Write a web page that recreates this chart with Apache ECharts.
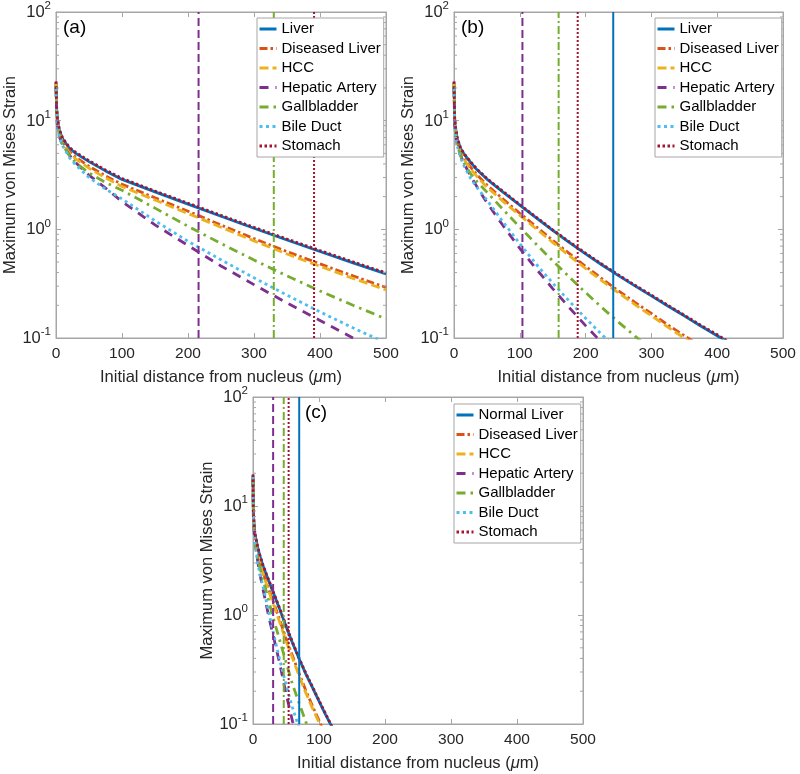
<!DOCTYPE html>
<html><head><meta charset="utf-8">
<script src="https://cdn.jsdelivr.net/npm/echarts@6/dist/echarts.min.js"></script>
<style>html,body{margin:0;padding:0;background:#fff}#c{width:800px;height:774px}</style>
</head><body><div id="c"></div><script>
// ---------- names / ticks ----------
const namesAB = ['Liver','Diseased Liver','HCC','Hepatic Artery','Gallbladder','Bile Duct','Stomach'];
const namesC  = ['Normal Liver','Diseased Liver','HCC','Hepatic Artery','Gallbladder','Bile Duct','Stomach'];
const xTicks = [0,100,200,300,400,500];
const yTicks = [0.1,1,10,100];
const minorTickValues = [0.2,0.3,0.4,0.5,0.6,0.7,0.8,0.9,2,3,4,5,6,7,8,9,20,30,40,50,60,70,80,90];
const panelLabels = ['(a)','(b)','(c)'];

// ---------- panel (a) ----------
const xA = [0,1,2,5,10,20,30,50,75,100,150,200,250,300,350,400,450,500];
const liverA    = [22.5,13,10.5,8.2,6.8,5.6,5.0,4.2,3.45,2.88,2.21,1.706,1.318,1.023,0.798,0.625,0.492,0.389];
const diseasedA = [22,12.6,10.1,7.8,6.4,5.2,4.6,3.8,3.1,2.6,1.95,1.469,1.096,0.822,0.624,0.481,0.373,0.292];
const hccA      = [22,12.4,9.9,7.6,6.2,5.05,4.45,3.65,2.98,2.48,1.86,1.4,1.045,0.783,0.593,0.457,0.354,0.277];
const hepaticA  = [20,11.5,9.1,7.1,6.0,4.85,4.1,3.15,2.4,1.8,1.1,0.71,0.46,0.31,0.21,0.145,0.1,0.07];
const gallA     = [21,12.3,9.7,7.3,6.0,4.8,4.1,3.3,2.7,2.29,1.567,1.067,0.741,0.521,0.373,0.271,0.2,0.15];
const bileA     = [20,11.8,9.3,7.0,5.9,4.6,3.9,3.0,2.35,1.905,1.2,0.776,0.525,0.358,0.248,0.174,0.124,0.09];
const stomachA  = [23,13.2,10.7,8.35,6.93,5.7,5.1,4.28,3.52,2.94,2.25,1.74,1.345,1.043,0.814,0.638,0.502,0.397];
const vlineA    = [null,null,null,216,330,null,391];

// ---------- panel (b) ----------
const xB = [0,1,2,5,10,15,25,35,50,75,100,125,150,175,200,225,250,275,300,325,350,375,400,425];
const liverB    = [22.5,10.5,8.9,6.8,5.55,4.95,4.15,3.53,2.9,2.19,1.667,1.274,0.977,0.759,0.594,0.47,0.375,0.302,0.244,0.197,0.16,0.129,0.105,0.086];
const diseasedB = [22,10.1,8.5,6.4,5.16,4.56,3.75,3.17,2.56,1.888,1.406,1.057,0.794,0.6,0.457,0.351,0.272,0.213,0.168,0.132,0.105,0.084];
const hccB      = [22,9.9,8.3,6.2,5.0,4.42,3.6,3.05,2.45,1.80,1.343,1.01,0.758,0.573,0.436,0.335,0.26,0.203,0.16,0.126,0.1,0.08];
const hepaticB  = [20,9.1,7.7,5.97,4.8,4.05,3.1,2.46,1.76,1.072,0.668,0.432,0.285,0.191,0.13,0.09];
const gallB     = [21,9.7,8.0,5.96,4.75,4.07,3.26,2.75,2.2,1.514,1.047,0.73,0.513,0.365,0.262,0.19,0.14,0.104,0.078];
const bileB     = [20,9.3,7.7,5.86,4.55,3.86,2.96,2.42,1.86,1.16,0.738,0.478,0.32,0.219,0.152,0.107,0.077];
const stomachB  = [23,10.7,9.0,6.9,5.6,5.0,4.2,3.58,2.94,2.22,1.69,1.293,0.99,0.77,0.603,0.477,0.381,0.306,0.248,0.2,0.162,0.131,0.107,0.087];
const vlineB    = [242,null,null,104,159,null,188];

// ---------- panel (c) ----------
const xC = [0,0.5,1,2,3,5,7,10,15,20,25,30,40,50,60,70,80,90,100,110,120,130];
const liverC    = [19,9.35,7.85,6.3,5.5,4.8,4.2,3.56,2.85,2.37,1.98,1.65,1.15,0.79,0.55,0.395,0.288,0.217,0.162,0.122,0.093,0.076];
const diseasedC = [18.5,8.95,7.4,5.93,5.12,4.38,3.82,3.2,2.51,2.04,1.66,1.37,0.92,0.61,0.42,0.29,0.203,0.147,0.108,0.08];
const hccC      = [18.5,8.7,7.2,5.75,4.95,4.2,3.66,3.06,2.4,1.95,1.58,1.3,0.875,0.58,0.4,0.276,0.193,0.14,0.103,0.076];
const hepaticC  = [18,8.0,6.8,5.4,4.75,3.85,3.15,2.44,1.74,1.25,0.9,0.67,0.37,0.19,0.105,0.075];
const gallC     = [18,8.4,6.9,5.5,4.7,3.9,3.3,2.77,2.15,1.66,1.27,0.97,0.6,0.37,0.23,0.155,0.105,0.075];
const bileC     = [18.5,8.1,6.8,5.35,4.5,3.7,3.05,2.44,1.85,1.35,0.99,0.72,0.4,0.23,0.14,0.092,0.07];
const stomachC  = [19.5,9.5,7.95,6.4,5.58,4.87,4.26,3.61,2.89,2.4,2.01,1.67,1.17,0.8,0.56,0.4,0.292,0.22,0.164,0.124,0.094,0.077];
const vlineC    = [70,null,null,30.5,46.6,null,54];

// ---------- styles ----------
const colors = ['#0072BD','#D95319','#EDB120','#7E2F8E','#77AC30','#4DBEEE','#A2142F'];
const curveDash = ['solid',[8,3,2.5,3],[9,4],[9,7],[9,5,2.5,5],[3,3.5],[2.5,2.5]];
const vDash = ['solid',[8,3,2,3],[8,4],[8,4],[8,3,2,3],[2,3],[2,2]];
const FONT = '"Liberation Sans", Arial, Helvetica, sans-serif';
const AXC = '#a6a6a6', TXT = '#262626';

const panels = [
  {grid:{left:56, top:12, width:330, height:326}, x:xA, ys:[liverA,diseasedA,hccA,hepaticA,gallA,bileA,stomachA], v:vlineA, names:namesAB, legend:{left:257, top:18}, label:{left:63, top:18}},
  {grid:{left:454, top:12, width:329, height:326}, x:xB, ys:[liverB,diseasedB,hccB,hepaticB,gallB,bileB,stomachB], v:vlineB, names:namesAB, legend:{left:655, top:18}, label:{left:461, top:18}},
  {grid:{left:253, top:397, width:330, height:327}, x:xC, ys:[liverC,diseasedC,hccC,hepaticC,gallC,bileC,stomachC], v:vlineC, names:namesC, legend:{left:454, top:404}, label:{left:305, top:403}}
];

const option = {animation:false, backgroundColor:'#fff', textStyle:{fontFamily:FONT},
  grid:[], xAxis:[], yAxis:[], series:[], legend:[], graphic:[]};

const yFmt = v => { const e = Math.round(Math.log10(v)); return '{b|10}{s|' + e + '}'; };

panels.forEach((p, gi) => {
  option.grid.push(Object.assign({show:true, borderColor:AXC, borderWidth:1, backgroundColor:'#fff'}, p.grid));
  const xBase = {type:'value', gridIndex:gi, min:0, max:500, interval:100,
    axisLine:{show:true, onZero:false, lineStyle:{color:AXC, width:1}},
    axisTick:{show:true, inside:true, length:5, lineStyle:{color:AXC}},
    splitLine:{show:false}};
  option.xAxis.push(Object.assign({}, xBase, {position:'bottom',
    axisLabel:{fontSize:15.5, color:TXT, margin:8, fontFamily:FONT},
    name:'Initial distance from nucleus ({i|μ}m)', nameLocation:'middle', nameGap:31,
    nameTextStyle:{fontSize:16.5, color:TXT, fontFamily:FONT, rich:{i:{fontStyle:'italic', fontSize:16.5, color:TXT, fontFamily:FONT}}}}));
  option.xAxis.push(Object.assign({}, xBase, {position:'top', axisLabel:{show:false}}));
  const yBase = {type:'log', logBase:10, gridIndex:gi, min:0.1, max:100,
    axisLine:{show:true, onZero:false, lineStyle:{color:AXC, width:1}},
    axisTick:{show:true, inside:true, length:5, lineStyle:{color:AXC}},
    splitLine:{show:false}, minorTick:{show:false}};
  option.yAxis.push(Object.assign({}, yBase, {position:'left',
    axisLabel:{formatter:yFmt, margin:5, color:TXT,
      rich:{b:{fontSize:16.5, color:TXT, fontFamily:FONT, lineHeight:18, verticalAlign:'bottom'},
            s:{fontSize:11.5, color:TXT, fontFamily:FONT, lineHeight:11, padding:[0,0,9,0], verticalAlign:'bottom'}}},
    name:'Maximum von Mises Strain', nameLocation:'middle', nameGap:37,
    nameTextStyle:{fontSize:16.5, color:TXT, fontFamily:FONT}}));
  option.yAxis.push(Object.assign({}, yBase, {position:'right', axisLabel:{show:false}}));

  // curves
  p.ys.forEach((ys, si) => {
    const data = [];
    for (let j = 0; j < ys.length && j < p.x.length; j++) data.push([p.x[j], ys[j]]);
    option.series.push({type:'line', name:p.names[si], xAxisIndex:2*gi, yAxisIndex:2*gi,
      data, symbol:'none', smooth:false, clip:true, z:3,
      lineStyle:{color:colors[si], width:2.8, type:curveDash[si], cap:'butt'},
      itemStyle:{color:colors[si]}});
  });
  // vertical lines
  p.v.forEach((vx, si) => {
    if (vx == null) return;
    option.series.push({type:'line', name:'vline'+gi+'_'+si, xAxisIndex:2*gi, yAxisIndex:2*gi,
      data:[[vx, yTicks[0]],[vx, yTicks[yTicks.length-1]]], symbol:'none', z:4,
      lineStyle:{color:colors[si], width:2, type:vDash[si], cap:'butt'}, silent:true});
  });
  // minor ticks on log axis (both sides)
  option.series.push({type:'custom', name:'minor'+gi, xAxisIndex:2*gi, yAxisIndex:2*gi,
    data:minorTickValues.map(v => [xTicks[0], v]), encode:{x:0, y:1}, silent:true, z:5, clip:false,
    renderItem:(params, api) => {
      const v = api.value(1);
      const a = api.coord([xTicks[0], v]);
      const b = api.coord([xTicks[xTicks.length-1], v]);
      return {type:'group', children:[
        {type:'line', shape:{x1:a[0], y1:a[1], x2:a[0]+3, y2:a[1]}, style:{stroke:AXC, lineWidth:1}},
        {type:'line', shape:{x1:b[0], y1:b[1], x2:b[0]-3, y2:b[1]}, style:{stroke:AXC, lineWidth:1}}
      ]};
    }});

  option.legend.push({data:p.names, left:p.legend.left, top:p.legend.top, orient:'vertical',
    selectedMode:false, itemWidth:17, itemHeight:12, itemGap:3.5, padding:[3,3,3,1],
    borderColor:AXC, borderWidth:1, backgroundColor:'#fff', borderRadius:0,
    itemStyle:{opacity:0}, lineStyle:{width:3},
    textStyle:{fontSize:15, color:'#000', fontFamily:FONT, lineHeight:16}, z:10});

  option.graphic.push({type:'text', left:p.label.left, top:p.label.top, z:20,
    style:{text:panelLabels[gi], fontSize:19, fill:'#000', font:'19px ' + FONT}});
});

const chart = echarts.init(document.getElementById('c'), null, {renderer:'canvas'});
chart.setOption(option);
</script></body></html>
